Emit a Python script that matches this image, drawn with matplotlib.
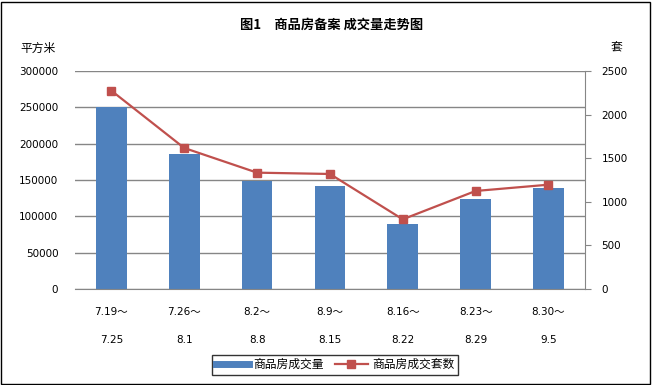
import matplotlib.pyplot as plt
from matplotlib.patches import Rectangle
from matplotlib.lines import Line2D
import numpy as np

plt.rcParams['font.family'] = ['DejaVu Sans', 'Noto Sans CJK SC']

periods = ["7.19～\n7.25", "7.26～\n8.1", "8.2～\n8.8", "8.9～\n8.15",
           "8.16～\n8.22", "8.23～\n8.29", "8.30～\n9.5"]
area = [250000, 186000, 148600, 141700, 89500, 123900, 139000]
units = [2274, 1617, 1334, 1319, 799, 1124, 1196]

bar_color = "#4F81BD"
line_color = "#C0504D"
grid_color = "#868686"

fig = plt.figure(figsize=(6.52, 3.85), dpi=100)
ax = fig.add_axes([0.115, 0.2494, 0.782, 0.5662])
x = np.arange(len(periods))

ax.set_axisbelow(True)
ax.bar(x, area, width=0.42, color=bar_color, zorder=2)
ax.set_xlim(-0.5, len(periods) - 0.5)
ax.set_ylim(0, 300000)
ax.set_yticks(np.arange(0, 300001, 50000))
ax.grid(axis="y", color=grid_color, linewidth=1)
ax.set_xticks(x)
ax.set_xticklabels(periods, fontsize=7.5, linespacing=3.3)
ax.tick_params(axis="x", length=0, pad=13)
ax.tick_params(axis="y", length=0, labelsize=7.5, pad=12)
for s in ["top", "left", "right"]:
    ax.spines[s].set_visible(False)
ax.spines["bottom"].set_color(grid_color)

ax2 = ax.twinx()
ax2.plot(x, units, color=line_color, linewidth=1.6, marker="s", markersize=6,
         markerfacecolor=line_color, markeredgecolor=line_color)
ax2.set_ylim(0, 2500)
ax2.set_yticks(np.arange(0, 2501, 500))
ax2.tick_params(axis="y", direction="out", length=4, color=grid_color,
                labelsize=7.5, pad=8)
for s in ["top", "left", "bottom"]:
    ax2.spines[s].set_visible(False)
ax2.spines["right"].set_color(grid_color)

fig.text(0.509, 0.935, "图1　商品房备案 成交量走势图", ha="center", va="center",
         fontsize=9.5, fontweight="bold", family=["Noto Sans CJK SC"])
fig.text(0.058, 0.875, "平方米", ha="center", va="center", fontsize=8.5,
         family=["Noto Sans CJK SC"])
fig.text(0.946, 0.875, "套", ha="center", va="center", fontsize=8.5,
         family=["Noto Sans CJK SC"])

handles = [Line2D([0], [0], color=bar_color, linewidth=5),
           Line2D([0], [0], color=line_color, linewidth=1.6, marker="s",
                  markersize=6)]
leg = fig.legend(handles, ["商品房成交量", "商品房成交套数"], loc="center",
                 bbox_to_anchor=(0.514, 0.053), ncol=2,
                 frameon=True, fancybox=False, edgecolor="black",
                 handlelength=2.8, columnspacing=0.9, borderpad=0.3,
                 handletextpad=0.4, prop={"family": ["Noto Sans CJK SC"], "size": 8.5})
leg.get_frame().set_linewidth(1)

fig.patches.append(Rectangle((0.002, 0.003), 0.995, 0.993, transform=fig.transFigure,
                             fill=False, edgecolor="black", linewidth=1))

fig.savefig("out.png", dpi=100)
